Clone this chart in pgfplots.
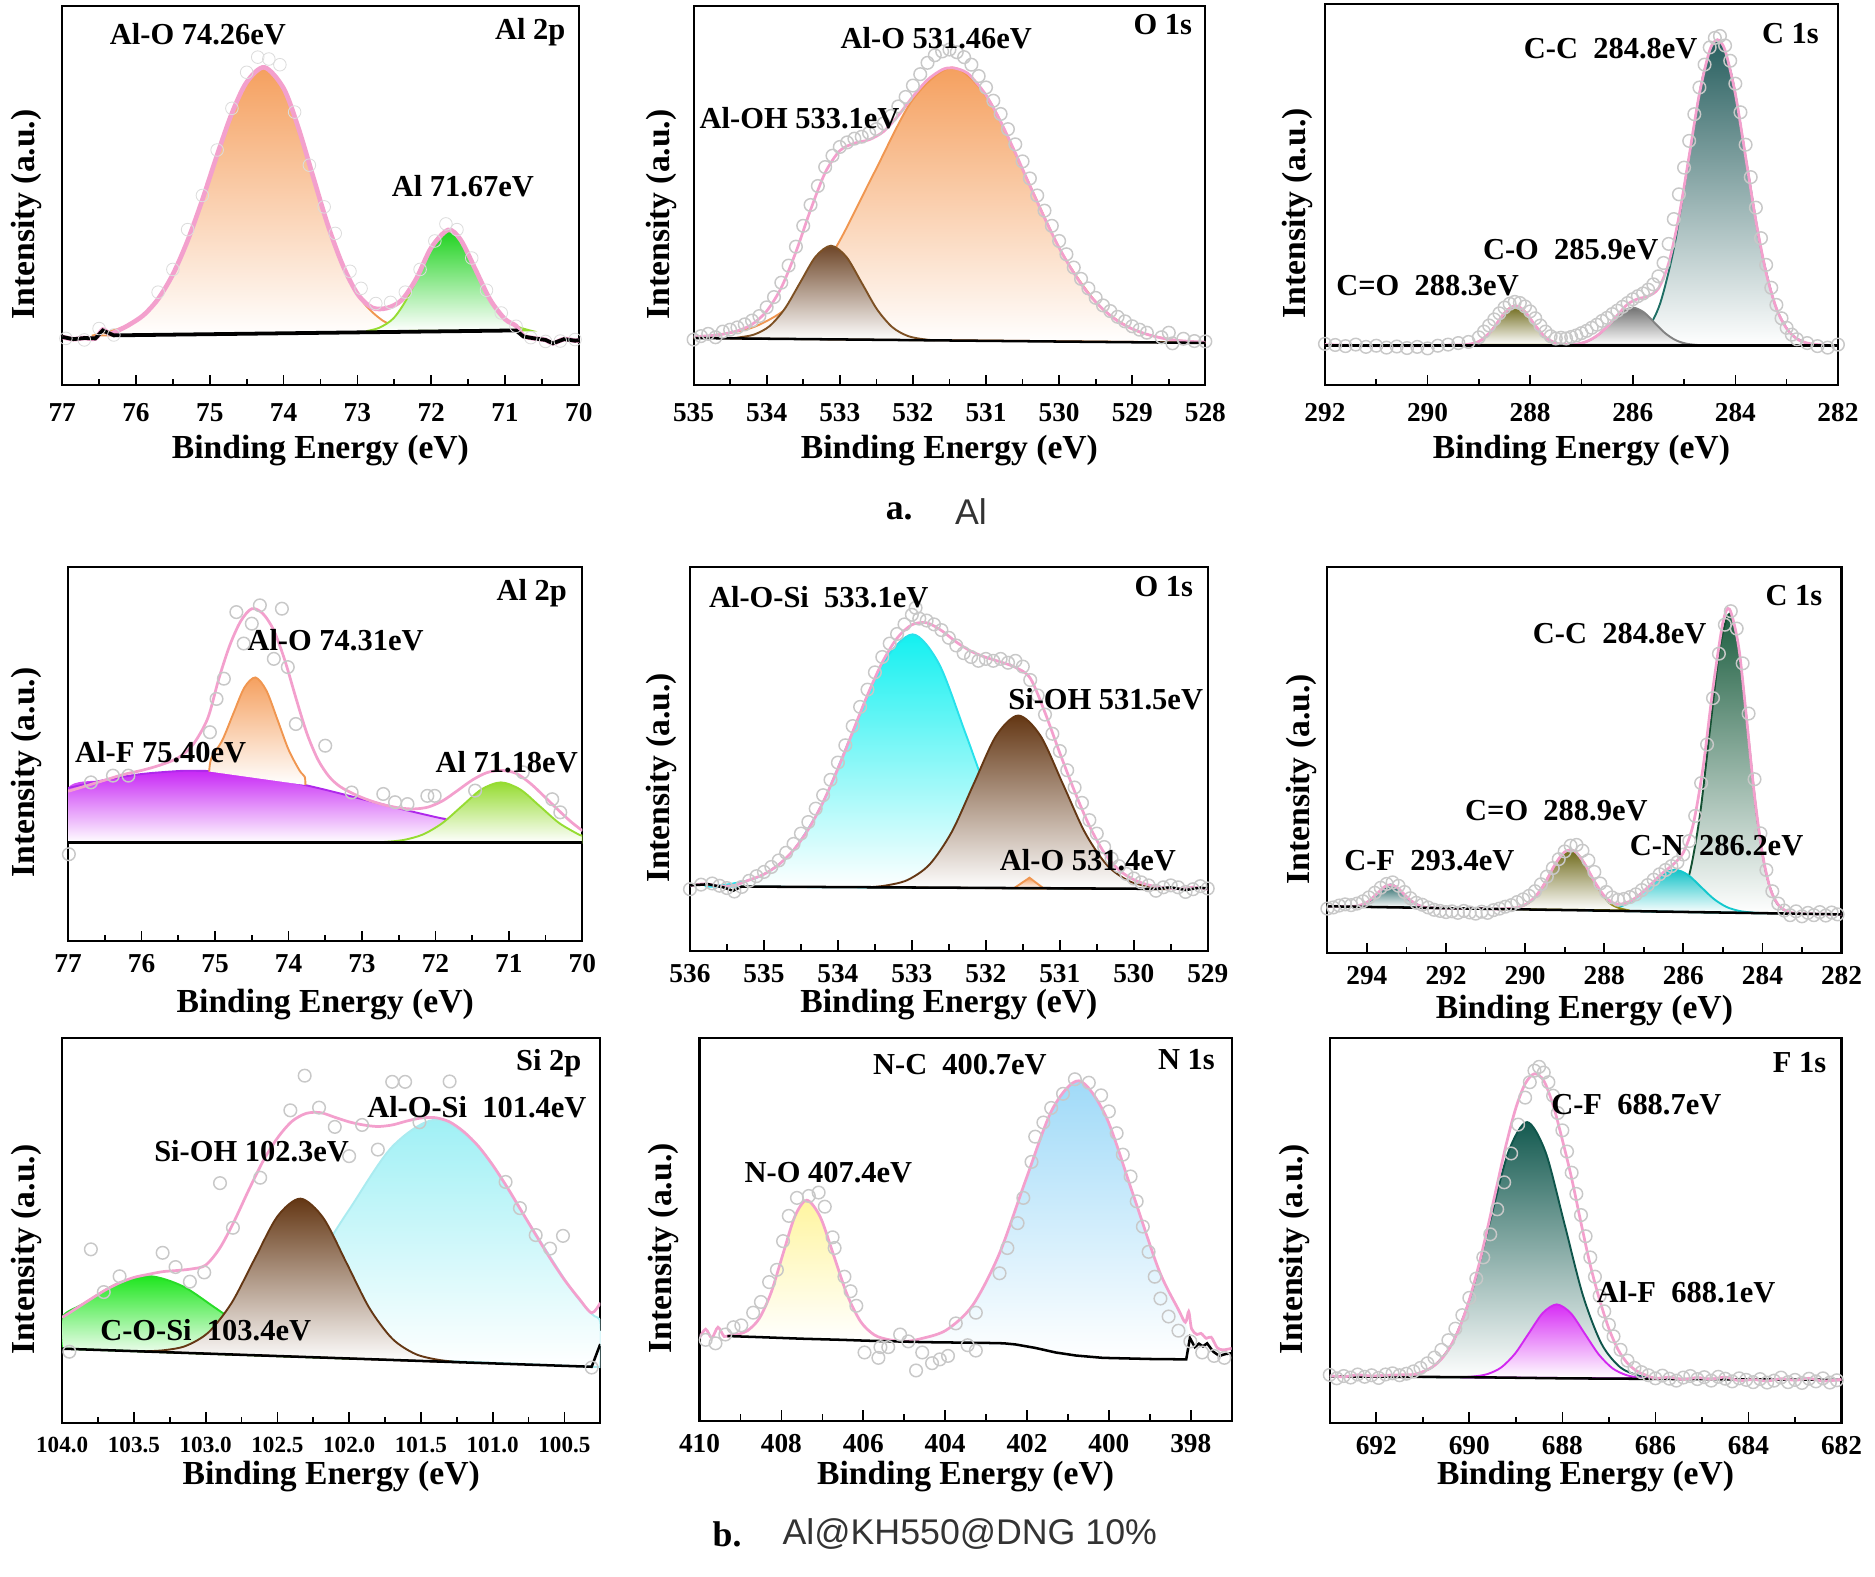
\documentclass[border=0pt]{standalone}
\usepackage{fontspec}
\setmainfont{Liberation Serif}
\newfontfamily\capfont{Liberation Sans}
\usepackage{pgfplots}
\pgfplotsset{compat=1.18}
\definecolor{envpink}{RGB}{243,160,205}
\definecolor{circg}{RGB}{200,200,200}
\definecolor{circl}{RGB}{220,220,220}
\definecolor{orL}{RGB}{240,150,80}
\definecolor{orF}{RGB}{245,160,95}
\definecolor{grL}{RGB}{150,220,50}
\definecolor{grF}{RGB}{30,210,30}
\definecolor{brL}{RGB}{125,80,35}
\definecolor{brF}{RGB}{110,70,40}
\definecolor{tealL}{RGB}{30,110,100}
\definecolor{tealF}{RGB}{40,95,95}
\definecolor{olL}{RGB}{150,140,20}
\definecolor{olF}{RGB}{110,105,25}
\definecolor{gyL}{RGB}{130,130,130}
\definecolor{gyF}{RGB}{115,115,115}
\definecolor{puL}{RGB}{175,40,235}
\definecolor{puF}{RGB}{200,40,245}
\definecolor{cyL}{RGB}{40,225,235}
\definecolor{cyF}{RGB}{20,240,240}
\definecolor{brbL}{RGB}{100,55,20}
\definecolor{brbF}{RGB}{100,55,20}
\definecolor{cfL}{RGB}{30,100,100}
\definecolor{cfF}{RGB}{35,100,100}
\definecolor{cnL}{RGB}{20,200,205}
\definecolor{cnF}{RGB}{20,195,200}
\definecolor{ccL}{RGB}{20,80,50}
\definecolor{ccF}{RGB}{30,95,65}
\definecolor{gcF}{RGB}{30,230,30}
\definecolor{gcL}{RGB}{40,220,40}
\definecolor{lcF}{RGB}{160,240,245}
\definecolor{lcL}{RGB}{170,235,240}
\definecolor{yeF}{RGB}{255,245,160}
\definecolor{blF}{RGB}{160,218,248}
\definecolor{fcL}{RGB}{15,85,75}
\definecolor{fcF}{RGB}{20,90,80}
\definecolor{maL}{RGB}{210,40,240}
\definecolor{maF}{RGB}{215,45,245}
\newcommand\lab{\fontsize{14.5}{17}\selectfont\bfseries}
\pgfplotsset{
 xps/.style={
  scale only axis, clip mode=individual, anchor=south west,
  x dir=reverse, ymin=0, ymax=100, ytick=\empty,
  xtick pos=left, tick align=inside,
  major tick length=5pt, minor tick length=3pt, minor x tick num=1,
  tick style={black, line width=0.8pt},
  axis line style={line width=1pt},
  /pgf/number format/assume math mode=true,
  xticklabel style={font=\fontsize{13}{15}\selectfont\bfseries, yshift=-0.1cm},
  xlabel={Binding Energy (eV)}, ylabel={Intensity (a.u.)},
  every axis x label/.style={at={(axis description cs:0.5,-0.167)}, anchor=center, font=\fontsize{16}{18}\selectfont\bfseries},
  every axis y label/.style={at={(axis description cs:-0.068,0.45)}, rotate=90, anchor=center, font=\fontsize{16}{18}\selectfont\bfseries},
 },
 pk/.style 2 args={smooth, draw=#1, line width=0.9pt, top color=#2, bottom color=white},
 env/.style={smooth, draw=envpink, line width=1.3pt},
 base/.style={black, line width=1.2pt},
 circ/.style={only marks, mark=o, mark size=3pt, mark options={draw=circg, line width=0.7pt}},
}
\begin{document}
\begin{tikzpicture}
\path (0,0) rectangle (31.36,26.36);
% ---------------- a1 Al 2p
\begin{axis}[xps, at={(1.04cm,19.92cm)}, width=8.64cm, height=6.34cm,
  xmin=70, xmax=77, xtick={70,...,77}, ylabel style={at={(axis description cs:-0.069,0.45)}},
  xticklabel style={yshift=-0.08cm}, xlabel style={at={(axis description cs:0.5,-0.172)}}]
\addplot[pk={orL}{orF}] coordinates {(76.6,13.03)(76.42,13.85)(76.06,16.24)(75.70,22.74)(75.34,36.12)(74.98,55.99)(74.62,75.45)(74.26,83.79)(73.94,75.61)(73.62,56.32)(73.30,36.60)(72.98,23.39)(72.66,17.05)(72.34,14.82)(72.10,14.10)} -- cycle;
\addplot[pk={grL}{grF}] coordinates {(72.88,14.22)(72.70,15.13)(72.51,17.61)(72.33,22.72)(72.14,30.28)(71.96,37.70)(71.77,40.88)(71.59,37.78)(71.40,30.46)(71.22,22.98)(71.03,17.97)(70.85,15.57)(70.66,14.40)} -- cycle;
\addplot[smooth, draw=envpink, line width=2.2pt] coordinates {(77.0,12.7)(76.85,12.1)(76.7,12.4)(76.55,12.3)(76.45,14.6)(76.35,13.5)(76.2,14.8)(76.1,15.8)(75.9,18.4)(75.7,22.7)(75.5,29.2)(75.3,38.1)(75.1,48.9)(74.9,60.7)(74.7,71.7)(74.5,79.9)(74.26,83.8)(74.0,78.3)(73.8,67.9)(73.6,55.0)(73.4,42.2)(73.2,31.7)(73.0,24.1)(72.8,20.4)(72.6,20.3)(72.4,22.4)(72.2,28.1)(72.0,36.2)(71.77,40.9)(71.6,38.3)(71.4,30.5)(71.2,22.5)(71.0,17.4)(70.85,15.6)(70.75,13.0)(70.6,12.3)(70.45,11.9)(70.35,11.0)(70.2,12.1)(70.05,11.7)(70.0,11.8)};
\addplot[black, line width=1.8pt] coordinates {(77.0,12.7)(76.85,12.1)(76.7,12.4)(76.55,12.3)(76.45,14.4)(76.3,13.1)(70.85,14.4)(70.75,12.8)(70.6,12.3)(70.45,11.9)(70.35,11.0)(70.2,12.1)(70.05,11.7)(70,11.8)};
\addplot[circ, mark options={draw=circl}] coordinates {(76.95,12.3)(76.7,11.9)(76.5,14.9)(76.3,13.2)(75.7,24.5)(75.5,30.5)(75.3,41)(75.1,50)(74.9,62)(74.7,73)(74.5,82.5)(74.35,86.5)(74.2,86)(74.05,84.5)(73.85,72)(73.65,58)(73.45,47)(73.3,40)(73.1,30)(72.95,25.5)(72.75,21.5)(72.55,21.8)(72.35,24.5)(72.15,30.5)(71.95,38)(71.8,42.5)(71.65,41)(71.45,33.5)(71.25,25)(71.05,19)(70.85,15.5)(70.65,12.5)(70.45,11.5)(70.25,11.6)(70.05,12.0)};
\node[font=\lab] at (axis cs:75.16,92.6) {Al-O 74.26eV};
\node[font=\lab, anchor=east] at (axis cs:70.08,93) {Al 2p};
\node[font=\lab] at (axis cs:71.57,52.4) {Al 71.67eV};
\end{axis}
% ---------------- a2 O 1s
\begin{axis}[xps, at={(11.60cm,19.92cm)}, width=8.56cm, height=6.34cm,
  xmin=528, xmax=535, xtick={528,...,535}, ylabel style={at={(axis description cs:-0.063,0.45)}},
  xticklabel style={yshift=-0.08cm}, xlabel style={at={(axis description cs:0.5,-0.172)}}]
\addplot[pk={orL}{orF}] coordinates {(535.0,12.45)(534.70,13.15)(534.16,15.41)(533.62,21.88)(533.08,35.42)(532.54,55.61)(532.00,75.38)(531.46,83.74)(530.96,75.19)(530.46,55.23)(529.96,34.84)(529.46,21.11)(528.96,14.44)(528.46,11.99)(528.0,11.2)} -- cycle;
\addplot[pk={brL}{brF}] coordinates {(534.5,12.3)(534.38,12.56)(534.17,13.33)(533.96,15.55)(533.75,20.19)(533.54,27.11)(533.33,33.89)(533.12,36.75)(532.91,33.81)(532.70,26.95)(532.49,19.95)(532.28,15.24)(532.07,12.94)(531.86,12.09)(531.7,11.8)} -- cycle;
\addplot[env] coordinates {(535.0,12.7)(534.8,13.0)(534.6,13.4)(534.4,14.3)(534.2,16.0)(534.0,19.5)(533.8,25.7)(533.6,35.1)(533.4,46.2)(533.2,56.0)(533.0,61.8)(532.8,63.8)(532.6,64.7)(532.4,66.9)(532.2,71.1)(532.0,76.1)(531.8,80.5)(531.6,83.2)(531.46,83.7)(531.3,82.8)(531.2,81.3)(531.0,76.5)(530.8,69.5)(530.6,61.3)(530.4,52.6)(530.2,44.1)(530.0,36.2)(529.8,29.6)(529.6,24.1)(529.4,20.0)(529.2,16.9)(529.0,14.8)(528.8,13.4)(528.6,12.4)(528.4,11.8)(528.2,11.5)(528.0,11.3)};
\addplot[base] coordinates {(535,12.4)(528,11.1)};
\addplot[circ] coordinates {(535.0,12.0)(534.9,12.9)(534.8,13.5)(534.7,12.6)(534.6,14.1)(534.5,14.6)(534.4,15.2)(534.3,16.0)(534.2,17.0)(534.1,18.2)(534.0,20.5)(533.9,23.2)(533.8,27.0)(533.7,31.5)(533.6,36.5)(533.5,42.0)(533.4,47.5)(533.3,52.5)(533.2,57.5)(533.1,60.5)(533.0,62.8)(532.9,64.0)(532.8,65.0)(532.7,65.5)(532.6,66.5)(532.5,67.5)(532.4,69.0)(532.3,71.0)(532.2,73.5)(532.1,76.0)(532.0,79.0)(531.9,82.0)(531.8,85.0)(531.7,87.0)(531.6,88.0)(531.5,88.5)(531.4,87.8)(531.3,86.5)(531.2,84.5)(531.1,81.5)(531.0,78.5)(530.9,75.0)(530.8,71.5)(530.7,67.5)(530.6,63.5)(530.5,59.0)(530.4,54.5)(530.3,50.0)(530.2,46.0)(530.1,42.0)(530.0,38.0)(529.9,34.5)(529.8,31.0)(529.7,28.0)(529.6,25.5)(529.5,23.0)(529.4,21.0)(529.3,19.5)(529.2,18.0)(529.1,16.8)(529.0,15.5)(528.9,14.6)(528.8,13.8)(528.6,12.6)(528.5,13.8)(528.45,11.0)(528.3,12.2)(528.15,11.6)(528.0,11.5)};
\node[font=\lab] at (axis cs:531.68,91.6) {Al-O 531.46eV};
\node[font=\lab] at (axis cs:533.55,70.3) {Al-OH 533.1eV};
\node[font=\lab, anchor=east] at (axis cs:528.08,95) {O 1s};
\end{axis}
% ---------------- a3 C 1s
\begin{axis}[xps, at={(22.16cm,19.92cm)}, width=8.58cm, height=6.38cm,
  xmin=282, xmax=292, xtick={282,284,...,292}, ylabel style={at={(axis description cs:-0.054,0.45)}},
  xticklabel style={yshift=-0.08cm}, xlabel style={at={(axis description cs:0.5,-0.172)}}]
\addplot[pk={tealL}{tealF}] coordinates {(286.3,10.4)(286.03,11.29)(285.75,13.92)(285.47,21.24)(285.19,36.41)(284.91,58.98)(284.63,81.09)(284.35,90.5)(284.07,81.09)(283.79,58.98)(283.51,36.41)(283.23,21.24)(282.95,13.92)(282.67,11.29)(282.4,10.4)} -- cycle;
\addplot[pk={gyL}{gyF}] coordinates {(287.26,10.51)(287.05,10.83)(286.84,11.74)(286.63,13.61)(286.42,16.40)(286.21,19.14)(286.0,20.3)(285.79,19.14)(285.58,16.40)(285.37,13.61)(285.16,11.74)(284.95,10.83)(284.74,10.51)} -- cycle;
\addplot[pk={olL}{olF}] coordinates {(289.28,10.52)(289.115,10.86)(288.95,11.81)(288.785,13.78)(288.62,16.71)(288.455,19.58)(288.29,20.8)(288.125,19.58)(287.96,16.71)(287.795,13.78)(287.63,11.81)(287.465,10.86)(287.30,10.52)} -- cycle;
\addplot[env] coordinates {(292,10.6)(291.5,10.4)(291,10.3)(290.5,10.3)(290,10.3)(289.75,10.4)(289.5,10.5)(289.25,10.6)(289.0,11.4)(288.75,14.3)(288.5,18.9)(288.29,20.8)(288.1,19.2)(287.9,15.6)(287.7,12.5)(287.5,11.0)(287.3,10.6)(287.1,10.7)(286.9,11.4)(286.7,12.9)(286.5,15.3)(286.3,18.3)(286.1,21.2)(285.9,22.6)(285.7,23.3)(285.5,25.3)(285.3,31.9)(285.1,44.1)(284.9,60.1)(284.7,76.4)(284.5,87.7)(284.35,90.5)(284.2,87.7)(284.0,76.3)(283.8,59.8)(283.6,43.1)(283.4,29.4)(283.2,20.1)(283.0,14.8)(282.8,12.1)(282.6,11.0)(282.4,10.6)(282.2,10.4)(282.0,10.4)};
\addplot[base] coordinates {(292,10.4)(282,10.4)};
\addplot[circ] coordinates {(292.0,10.8)(291.8,10.5)(291.6,10.2)(291.4,10.6)(291.2,10.0)(291.0,10.3)(290.8,9.8)(290.6,10.1)(290.4,9.7)(290.2,10.0)(290.0,9.6)(289.8,10.3)(289.6,10.6)(289.4,11.0)(289.2,11.3)(289.0,12.5)(288.9,14.0)(288.8,15.6)(288.7,17.2)(288.6,18.8)(288.5,20.3)(288.4,21.3)(288.3,21.8)(288.2,21.5)(288.1,20.6)(288.0,19.3)(287.9,17.5)(287.8,15.6)(287.7,14.0)(287.6,12.8)(287.5,12.2)(287.4,12.4)(287.3,12.2)(287.2,12.6)(287.1,13.0)(287.0,13.6)(286.9,14.2)(286.8,15.0)(286.7,15.8)(286.6,16.8)(286.5,17.6)(286.4,18.6)(286.3,19.5)(286.2,20.5)(286.1,21.5)(286.0,22.5)(285.9,23.3)(285.8,24.0)(285.7,25.0)(285.6,26.4)(285.5,28.5)(285.4,32.0)(285.3,37.0)(285.2,43.5)(285.1,50.0)(285.0,57.0)(284.9,64.0)(284.8,71.0)(284.7,78.0)(284.6,84.0)(284.5,88.5)(284.4,91.0)(284.3,91.5)(284.2,89.0)(284.1,85.0)(284.0,79.0)(283.9,71.5)(283.8,63.0)(283.7,54.5)(283.6,46.5)(283.5,38.5)(283.4,31.5)(283.3,25.5)(283.2,21.0)(283.1,17.5)(283.0,15.0)(282.9,13.2)(282.8,12.0)(282.6,11.0)(282.4,10.2)(282.2,9.8)(282.0,10.6)};
\node[font=\lab] at (axis cs:286.43,88.3) {C-C\ \ 284.8eV};
\node[font=\lab, anchor=east] at (axis cs:282.23,92.2) {C 1s};
\node[font=\lab] at (axis cs:287.21,35.5) {C-O\ \ 285.9eV};
\node[font=\lab] at (axis cs:290.0,26.0) {C=O\ \ 288.3eV};
\end{axis}
% ---------------- b1 Al 2p
\begin{axis}[xps, at={(1.14cm,10.62cm)}, width=8.60cm, height=6.26cm,
  xmin=70, xmax=77, xtick={70,...,77}, ylabel style={at={(axis description cs:-0.081,0.45)}}, xlabel style={at={(axis description cs:0.5,-0.17)}}]
\addplot[smooth, draw=none, top color=puF, bottom color=white] coordinates {(77,26.3)(77,40.91)(76.5,43.06)(76.0,44.64)(75.5,45.43)(75.3,45.5)(75.0,45.34)(74.5,44.37)(74.0,42.66)(73.5,40.43)(73.0,37.94)(72.5,35.46)(72.0,33.15)(71.85,32.53)(71.85,26.3)} -- cycle;
\addplot[smooth, draw=puL, line width=0.9pt] coordinates {(77,40.91)(76.5,43.06)(76.0,44.64)(75.5,45.43)(75.3,45.5)(75.0,45.34)(74.5,44.37)(74.0,42.66)(73.5,40.43)(73.0,37.94)(72.5,35.46)(72.0,33.15)(71.85,32.53)};
\addplot[smooth, draw=none, top color=orF, bottom color=white] coordinates {(75.08,45.3)(75.05,48.88)(74.9,53.72)(74.75,60.85)(74.6,67.76)(74.45,70.43)(74.3,66.89)(74.15,59.13)(74.0,51.17)(73.85,45.58)(73.78,43.91)(73.77,41.7)} -- cycle;
\addplot[smooth, draw=orL, line width=0.9pt] coordinates {(75.08,45.3)(75.05,48.88)(74.9,53.72)(74.75,60.85)(74.6,67.76)(74.45,70.43)(74.3,66.89)(74.15,59.13)(74.0,51.17)(73.85,45.58)(73.78,43.91)(73.77,41.7)};
\addplot[pk={grL}{grL}] coordinates {(72.96,26.3)(72.70,26.48)(72.435,27.01)(72.17,28.48)(71.905,31.53)(71.64,36.06)(71.375,40.51)(71.11,42.4)(70.845,40.51)(70.58,36.06)(70.315,31.53)(70.05,28.48)(70.0,28.11)(70.0,26.3)} -- cycle;
\addplot[env] coordinates {(77.0,40.0)(76.75,41.5)(76.5,43.0)(76.25,44.5)(76.0,45.6)(75.75,47.0)(75.5,49.0)(75.3,52.5)(75.1,59.5)(74.95,70)(74.8,79)(74.65,85.5)(74.5,88.8)(74.35,87.5)(74.2,83)(74.05,75)(73.9,65)(73.75,55.5)(73.6,48.5)(73.45,44)(73.3,41.3)(73.1,39.2)(72.9,37.6)(72.7,36.4)(72.5,35.6)(72.3,35.3)(72.1,35.8)(71.9,37.5)(71.7,40.2)(71.5,43.0)(71.3,45.0)(71.1,45.6)(70.9,44.8)(70.7,42.0)(70.5,38.3)(70.3,34.5)(70.15,31.8)(70.0,29.5)};
\addplot[base] coordinates {(77,26.3)(70,26.3)};
\addplot[circ] coordinates {(74.71,87.9)(74.39,89.7)(74.09,88.8)(74.50,84.8)(74.61,79.5)(74.20,75.4)(74.01,73.2)(74.88,70.1)(74.98,64.7)(73.90,58.0)(75.07,55.8)(73.50,52.2)(76.69,42.4)(76.39,44.2)(76.18,44.2)(73.14,39.7)(72.71,39.3)(72.55,37.1)(72.38,36.6)(72.11,38.8)(72.01,38.8)(71.46,40.2)(70.81,45.1)(70.41,37.9)(70.30,34.4)(76.99,23.2)};
\node[font=\lab, anchor=east] at (axis cs:70.11,92.9) {Al 2p};
\node[font=\lab] at (axis cs:73.36,80.4) {Al-O 74.31eV};
\node[font=\lab] at (axis cs:75.74,50.4) {Al-F 75.40eV};
\node[font=\lab] at (axis cs:71.03,47.8) {Al 71.18eV};
\end{axis}
% ---------------- b2 O 1s
\begin{axis}[xps, at={(11.54cm,10.46cm)}, width=8.66cm, height=6.42cm,
  xmin=529, xmax=536, xtick={529,...,536}, ylabel style={at={(axis description cs:-0.055,0.45)}}, xlabel style={at={(axis description cs:0.5,-0.14)}}]
\addplot[pk={cyL}{cyF}] coordinates {(535.8,16.7)(535.45,17.38)(535.04,19.50)(534.63,25.49)(534.22,37.95)(533.81,56.51)(533.40,74.69)(532.99,82.40)(532.63,74.61)(532.27,56.36)(531.91,37.72)(531.55,25.19)(531.19,19.12)(530.83,16.91)(530.6,16.2)} -- cycle;
\addplot[pk={brbL}{brbF}] coordinates {(533.6,16.5)(533.36,16.94)(533.06,18.39)(532.76,22.47)(532.46,30.96)(532.16,43.61)(531.86,56.00)(531.56,61.26)(531.26,55.94)(530.96,43.49)(530.66,30.78)(530.36,22.23)(530.06,18.09)(529.76,16.58)(529.5,16.0)} -- cycle;
\addplot[draw=orL, line width=0.9pt, top color=orF, bottom color=white] coordinates {(531.62,16.26)(531.41,19.0)(531.22,16.23)} -- cycle;
\addplot[env] coordinates {(536.0,16.9)(535.8,17.4)(535.6,16.8)(535.4,17.0)(535.2,18.4)(535.0,19.9)(534.8,22.4)(534.6,26.2)(534.4,31.6)(534.2,38.7)(534.0,47.4)(533.8,57.0)(533.6,66.6)(533.4,75.1)(533.2,81.4)(533.0,84.9)(532.8,85.4)(532.6,83.4)(532.4,80.4)(532.2,78.0)(532.0,76.4)(531.8,75.2)(531.6,73.8)(531.4,71.0)(531.2,62.0)(531.0,51.5)(530.8,41.5)(530.6,32.5)(530.4,25.5)(530.2,21.0)(530.0,18.5)(529.8,17.1)(529.6,16.4)(529.4,16.1)(529.2,16.5)(529.0,16.0)};
\addplot[base] coordinates {(536,17.0)(535.75,17.3)(535.55,16.5)(535.42,15.6)(535.3,16.7)(529.7,16.1)(529.5,16.5)(529.3,15.8)(529.1,16.4)(529,16.2)};
\addplot[circ] coordinates {(536.0,16.0)(535.85,17.2)(535.7,17.5)(535.6,16.9)(535.5,16.3)(535.4,15.4)(535.3,16.6)(535.2,18.2)(535.1,19.4)(535.0,20.5)(534.9,21.8)(534.8,23.5)(534.7,25.5)(534.6,27.8)(534.5,30.5)(534.4,33.5)(534.3,37.0)(534.2,40.5)(534.1,44.5)(534.0,49.0)(533.9,53.5)(533.8,58.5)(533.7,63.5)(533.6,68.0)(533.5,72.5)(533.4,76.5)(533.3,80.0)(533.2,82.5)(533.1,85.0)(533.0,87.5)(532.95,89.3)(532.9,86.5)(532.8,86.0)(532.7,85.0)(532.6,83.5)(532.5,81.5)(532.4,79.5)(532.3,77.5)(532.2,76.5)(532.1,75.5)(532.0,76.0)(531.9,75.5)(531.8,76.0)(531.7,75.0)(531.6,75.5)(531.5,74.0)(531.4,70.5)(531.3,66.5)(531.2,61.5)(531.1,56.5)(531.0,52.0)(530.9,47.0)(530.8,42.5)(530.7,38.5)(530.6,34.0)(530.5,30.5)(530.4,27.0)(530.3,24.0)(530.2,22.0)(530.1,20.0)(530.0,18.8)(529.9,17.8)(529.8,17.0)(529.7,15.6)(529.6,16.5)(529.5,17.0)(529.4,16.5)(529.3,15.3)(529.2,16.0)(529.1,16.8)(529.0,16.2)};
\node[font=\lab] at (axis cs:534.26,92.2) {Al-O-Si\ \ 533.1eV};
\node[font=\lab, anchor=east] at (axis cs:529.1,94.8) {O 1s};
\node[font=\lab] at (axis cs:530.38,65.6) {Si-OH 531.5eV};
\node[font=\lab] at (axis cs:530.62,23.7) {Al-O 531.4eV};
\end{axis}
% ---------------- b3 C 1s
\begin{axis}[xps, at={(22.20cm,10.42cm)}, width=8.60cm, height=6.46cm,
  xmin=282, xmax=295, xtick={282,284,...,294}, ylabel style={at={(axis description cs:-0.051,0.45)}}, xlabel style={at={(axis description cs:0.5,-0.15)}}]
\addplot[pk={ccL}{ccF}] coordinates {(286.6,10.7)(286.33,11.56)(286.08,14.06)(285.83,21.09)(285.58,35.71)(285.33,57.48)(285.08,78.80)(284.83,87.86)(284.60,78.73)(284.37,57.32)(284.14,35.47)(283.91,20.78)(283.68,13.67)(283.45,11.09)(283.2,10.2)} -- cycle;
\addplot[pk={cnL}{cnF}] coordinates {(288.4,11.03)(288.16,11.11)(287.835,11.42)(287.51,12.36)(287.185,14.38)(286.86,17.40)(286.535,20.35)(286.21,21.58)(285.885,20.25)(285.56,17.18)(285.235,14.06)(284.91,11.94)(284.585,10.90)(284.26,10.48)(283.9,10.3)} -- cycle;
\addplot[pk={olL}{olF}] coordinates {(290.6,11.38)(290.36,11.52)(290.11,12.0)(289.86,13.39)(289.61,16.33)(289.36,20.71)(289.11,24.86)(288.86,26.81)(288.61,24.93)(288.36,20.55)(288.11,16.09)(287.86,12.90)(287.61,11.60)(287.36,11.04)} -- cycle;
\addplot[pk={cfL}{cfF}] coordinates {(294.55,12.0)(294.39,12.0)(294.225,12.2)(294.06,12.75)(293.895,13.71)(293.73,15.37)(293.565,17.02)(293.4,17.74)(293.235,16.99)(293.07,15.31)(292.905,13.64)(292.74,12.62)(292.575,11.95)(292.41,11.75)} -- cycle;
\addplot[env] coordinates {(295.0,12.1)(294.75,12.1)(294.5,12.0)(294.25,12.2)(294.0,13.1)(293.75,15.3)(293.5,17.5)(293.25,17.1)(293.0,14.6)(292.75,12.6)(292.5,11.8)(292.25,11.7)(292.0,11.6)(291.5,11.5)(291.0,11.5)(290.75,11.4)(290.5,11.5)(290.25,11.7)(290.0,12.5)(289.75,14.5)(289.5,18.1)(289.25,22.8)(289.0,26.2)(288.75,26.4)(288.5,23.2)(288.25,18.6)(288.0,14.8)(287.75,12.9)(287.5,12.8)(287.25,14.0)(287.0,16.0)(286.75,18.5)(286.5,20.9)(286.25,23.0)(286.0,26.0)(285.75,33.3)(285.5,48.1)(285.25,68.6)(285.0,85.5)(284.83,89.0)(284.6,79.2)(284.4,60.6)(284.2,40.7)(284.0,25.7)(283.8,16.6)(283.6,12.5)(283.4,10.9)(283.2,10.3)(283.0,10.2)(282.5,10.1)(282.0,10.0)};
\addplot[base] coordinates {(295,12.1)(282,10.0)};
\addplot[circ] coordinates {(295.0,11.5)(294.85,11.8)(294.7,12.3)(294.55,12.6)(294.4,12.4)(294.25,12.8)(294.1,13.4)(293.95,14.4)(293.8,15.6)(293.65,16.9)(293.5,17.9)(293.35,18.3)(293.2,17.4)(293.05,15.8)(292.9,14.2)(292.75,13.0)(292.6,12.5)(292.45,11.8)(292.3,11.2)(292.15,10.9)(292.0,10.6)(291.85,10.8)(291.7,10.4)(291.55,10.9)(291.4,10.5)(291.25,10.2)(291.1,10.7)(290.95,10.4)(290.8,11.1)(290.65,11.5)(290.5,12.0)(290.35,12.4)(290.2,13.2)(290.05,13.9)(289.9,14.8)(289.75,16.0)(289.6,17.8)(289.45,19.8)(289.3,22.0)(289.15,24.3)(289.0,26.3)(288.85,27.8)(288.7,28.0)(288.55,26.5)(288.4,24.0)(288.25,21.0)(288.1,18.0)(287.95,15.8)(287.8,14.4)(287.65,13.8)(287.5,14.0)(287.35,14.5)(287.2,15.2)(287.05,16.3)(286.9,17.6)(286.75,19.0)(286.6,20.4)(286.45,21.5)(286.3,22.5)(286.15,23.5)(286.0,25.5)(285.85,29.0)(285.7,35.5)(285.55,44.0)(285.4,54.0)(285.25,66.0)(285.1,77.5)(284.95,85.0)(284.8,88.5)(284.65,84.0)(284.5,75.0)(284.35,62.0)(284.2,45.0)(284.05,31.0)(283.9,21.5)(283.75,16.0)(283.6,12.8)(283.45,11.0)(283.3,9.8)(283.15,10.8)(283.0,9.5)(282.85,10.4)(282.7,9.8)(282.55,10.6)(282.4,9.7)(282.25,10.5)(282.1,10.0)};
\node[font=\lab, anchor=east] at (axis cs:282.3,92.6) {C 1s};
\node[font=\lab] at (axis cs:287.61,82.7) {C-C\ \ 284.8eV};
\node[font=\lab] at (axis cs:289.21,36.8) {C=O\ \ 288.9eV};
\node[font=\lab] at (axis cs:285.16,27.7) {C-N\ \ 286.2eV};
\node[font=\lab] at (axis cs:292.42,23.8) {C-F\ \ 293.4eV};
\end{axis}
% ---------------- c1 Si 2p
\begin{axis}[xps, at={(1.04cm,2.56cm)}, width=9.00cm, height=6.44cm,
  xmin=100.25, xmax=104, xtick={100.5,101,101.5,102,102.5,103,103.5,104},
  xticklabels={100.5,101.0,101.5,102.0,102.5,103.0,103.5,104.0},
  xticklabel style={font=\fontsize{11}{13}\selectfont\bfseries, yshift=-0.02cm},
  ylabel style={at={(axis description cs:-0.067,0.45)}}, xlabel style={at={(axis description cs:0.5,-0.14)}}]
\addplot[pk={lcL}{lcF}] coordinates {(103.25,19.0)(102.94,20.7)(102.63,26.05)(102.32,37.54)(102.01,54.85)(101.70,71.78)(101.39,78.76)(101.08,70.98)(100.77,53.25)(100.46,35.16)(100.31,28.34)(100.25,26.1)(100.25,14.52)} -- cycle;
\addplot[pk={gcL}{gcF}] coordinates {(104.0,19.3)(104.0,27.43)(103.85,31.0)(103.62,36.11)(103.39,38.12)(103.16,35.52)(102.93,29.82)(102.70,24.0)(102.47,19.99)(102.24,17.91)(102.01,16.97)(101.9,16.6)} -- cycle;
\addplot[pk={brbL}{brbF}] coordinates {(103.46,18.6)(103.30,18.86)(103.14,20.0)(102.98,23.55)(102.82,31.14)(102.66,42.51)(102.50,53.65)(102.34,58.27)(102.18,53.24)(102.02,41.69)(101.86,29.91)(101.70,21.91)(101.54,17.95)(101.38,16.41)(101.22,15.75)} -- cycle;
\addplot[env] coordinates {(104.0,27.4)(103.9,29.8)(103.8,32.2)(103.7,34.5)(103.6,36.4)(103.5,37.8)(103.4,38.6)(103.3,39.3)(103.2,39.6)(103.1,40.0)(103.0,41.0)(102.9,45.5)(102.8,52.5)(102.7,60.5)(102.6,68.0)(102.5,74.0)(102.4,78.3)(102.3,80.4)(102.2,80.6)(102.1,79.4)(102.0,78.2)(101.9,77.4)(101.8,77.0)(101.7,77.4)(101.6,78.4)(101.5,79.2)(101.4,79.3)(101.3,78.2)(101.2,75.6)(101.1,71.9)(101.0,67.0)(100.9,61.3)(100.8,55.1)(100.7,48.9)(100.6,42.8)(100.5,37.2)(100.4,32.4)(100.31,28.6)(100.25,31.2)};
\addplot[base] coordinates {(104,19.3)(100.31,14.6)(100.25,20.5)};
\addplot[circ] coordinates {(103.80,45.1)(103.71,34.0)(103.60,38.1)(103.30,44.2)(103.21,40.5)(103.11,36.7)(103.01,39.1)(102.90,62.3)(102.81,50.7)(102.62,63.7)(102.41,81.2)(102.31,90.2)(102.21,81.9)(102.10,76.9)(102.00,69.3)(101.91,77.4)(101.80,71.0)(101.70,88.6)(101.61,88.6)(101.51,78.1)(101.30,88.7)(100.91,62.6)(100.81,55.8)(100.70,48.8)(100.60,45.3)(100.51,48.6)(100.31,14.4)(103.95,18.5)};
\node[font=\lab, anchor=east] at (axis cs:100.33,93.5) {Si 2p};
\node[font=\lab] at (axis cs:101.11,81.9) {Al-O-Si\ \ 101.4eV};
\node[font=\lab] at (axis cs:102.68,70.7) {Si-OH 102.3eV};
\node[font=\lab] at (axis cs:103.0,24.2) {C-O-Si\ \ 103.4eV};
\end{axis}
% ---------------- c2 N 1s
\begin{axis}[xps, at={(11.70cm,2.60cm)}, width=8.90cm, height=6.40cm,
  xmin=397, xmax=410, xtick={398,400,...,410},
  ylabel style={at={(axis description cs:-0.067,0.45)}}, xlabel style={at={(axis description cs:0.5,-0.145)}}]
\addplot[smooth, draw=none, top color=yeF, bottom color=white] coordinates {(409.3,22.05)(409.12,22.40)(408.83,23.49)(408.54,26.70)(408.25,33.45)(407.96,43.56)(407.67,53.42)(407.38,57.57)(407.05,53.22)(406.72,43.13)(406.39,32.82)(406.06,25.83)(405.73,22.42)(405.40,21.15)(405.2,20.7)} -- cycle;
\addplot[smooth, draw=none, top color=blF, bottom color=white] coordinates {(404.9,20.55)(404.63,21.30)(403.98,23.57)(403.33,30.05)(402.68,43.53)(402.03,62.86)(401.38,81.36)(400.73,88.75)(400.08,79.74)(399.43,59.80)(398.78,39.41)(398.13,25.71)(398.05,20.0)(398.0,16.0)} -- cycle;
\addplot[env] coordinates {(410.0,21.6)(409.85,23.9)(409.7,21.6)(409.55,24.4)(409.4,22.0)(409.25,22.3)(409.12,22.4)(408.83,23.5)(408.54,26.7)(408.25,33.5)(407.96,43.6)(407.67,53.4)(407.38,57.6)(407.05,53.2)(406.72,43.1)(406.39,32.8)(406.06,25.8)(405.73,22.4)(405.4,21.2)(405.0,20.7)(404.63,21.3)(403.98,23.6)(403.33,30.1)(402.68,43.5)(402.03,62.9)(401.38,81.4)(400.73,88.8)(400.08,79.7)(399.43,59.8)(398.78,39.4)(398.3,29.0)(398.13,25.7)(398.05,28.5)(397.98,24.0)(397.85,22.5)(397.75,22.8)(397.62,21.5)(397.5,21.8)(397.35,19.0)(397.2,18.5)(397.0,18.9)};
\addplot[base] coordinates {(409.32,22.1)(408.5,21.8)(407.5,21.4)(406.5,21.1)(405.97,20.9)(404.5,20.5)(403.0,20.3)(402.57,20.2)(402.28,19.9)(401.8,19.0)(401.3,17.8)(400.8,17.0)(400.15,16.4)(399.0,16.1)(398.11,16.0)(398.02,21.6)(397.9,19.2)(397.8,20.1)(397.7,19.4)(397.6,20.2)(397.45,18.0)(397.3,16.9)(397.15,17.4)(397.0,17.6)};
\addplot[circ] coordinates {(409.85,21.1)(409.61,20.2)(409.37,22.5)(409.17,24.4)(408.98,24.9)(408.69,28.2)(408.50,31.0)(408.30,36.2)(408.11,39.4)(407.96,46.9)(407.82,53.5)(407.62,58.2)(407.33,58.7)(407.09,59.6)(406.94,55.9)(406.75,47.9)(406.70,45.1)(406.46,37.6)(406.31,33.8)(406.17,30.0)(405.97,17.8)(405.63,16.4)(405.58,19.2)(405.39,19.2)(405.10,22.5)(404.90,20.7)(404.71,13.1)(404.56,17.8)(404.32,15.0)(404.13,16.0)(403.93,16.9)(403.74,25.4)(403.45,19.7)(403.25,18.3)(403.25,28.2)(402.67,38.5)(402.48,45.1)(402.23,51.6)(402.09,58.2)(401.89,67.6)(401.80,74.2)(401.60,77.9)(401.41,81.7)(401.12,85.4)(400.83,89.2)(400.49,88.3)(400.19,85.0)(400.00,80.8)(399.81,75.1)(399.66,69.5)(399.47,63.8)(399.32,57.3)(399.17,50.7)(399.03,44.1)(398.88,37.6)(398.74,31.9)(398.54,27.2)(398.30,23.5)(398.01,20.7)(397.72,17.8)(397.43,16.9)(397.18,16.4)};
\node[font=\lab, anchor=east] at (axis cs:397.23,94.4) {N 1s};
\node[font=\lab] at (axis cs:403.64,93.0) {N-C\ \ 400.7eV};
\node[font=\lab] at (axis cs:406.85,64.8) {N-O 407.4eV};
\end{axis}
% ---------------- c3 F 1s
\begin{axis}[xps, at={(22.24cm,2.56cm)}, width=8.56cm, height=6.44cm,
  xmin=682, xmax=693, xtick={682,684,...,692},
  ylabel style={at={(axis description cs:-0.068,0.45)}}, xlabel style={at={(axis description cs:0.5,-0.14)}}]
\addplot[pk={fcL}{fcF}] coordinates {(691.5,11.97)(691.16,12.69)(690.76,14.83)(690.36,20.87)(689.96,33.41)(689.56,52.09)(689.16,70.39)(688.76,78.15)(688.36,70.32)(687.96,51.96)(687.56,33.22)(687.16,20.60)(686.76,14.50)(686.36,12.30)(686.0,11.53)} -- cycle;
\addplot[pk={maL}{maF}] coordinates {(690.2,11.87)(689.92,12.06)(689.62,12.67)(689.32,14.38)(689.02,17.97)(688.72,23.33)(688.42,28.58)(688.12,30.80)(687.82,28.53)(687.52,23.23)(687.22,17.83)(686.92,14.18)(686.62,12.42)(686.32,11.76)(686.0,11.53)} -- cycle;
\addplot[base] coordinates {(693,12.1)(690,11.9)(688,11.6)(686,11.45)(682,11.2)};
\addplot[env] coordinates {(693.0,12.3)(692.7,12.0)(692.4,12.5)(692.1,12.2)(691.8,12.4)(691.5,12.5)(691.2,12.6)(691.0,13.3)(690.8,14.5)(690.6,16.6)(690.4,20.0)(690.2,25.1)(690.0,32.0)(689.8,40.8)(689.6,51.0)(689.4,62.0)(689.2,72.7)(689.0,81.8)(688.8,88.1)(688.6,90.7)(688.4,88.9)(688.2,82.6)(688.0,73.5)(687.8,63.5)(687.6,52.0)(687.4,41.0)(687.2,32.0)(687.0,24.5)(686.8,19.0)(686.6,15.5)(686.4,13.5)(686.2,12.4)(686.0,11.6)(685.7,11.9)(685.4,11.3)(685.1,11.8)(684.8,11.4)(684.5,11.9)(684.2,11.0)(683.9,11.3)(683.6,10.9)(683.3,11.5)(683.0,11.1)(682.7,11.6)(682.4,10.9)(682.0,11.3)};
\addplot[circ] coordinates {(693.0,12.5)(692.85,11.6)(692.7,12.2)(692.55,11.8)(692.4,12.6)(692.25,12.0)(692.1,12.4)(691.95,11.7)(691.8,12.6)(691.65,12.9)(691.5,12.4)(691.35,12.8)(691.2,13.4)(691.05,14.3)(690.9,15.5)(690.75,17.0)(690.6,19.0)(690.45,21.5)(690.3,24.5)(690.15,28.0)(690.0,32.5)(689.85,37.5)(689.7,43.0)(689.55,49.0)(689.4,55.5)(689.25,62.5)(689.1,70.0)(688.95,77.5)(688.8,84.5)(688.7,88.5)(688.6,91.5)(688.5,92.5)(688.4,91.0)(688.3,88.5)(688.2,85.0)(688.1,80.5)(688.0,76.0)(687.9,70.5)(687.8,65.0)(687.7,59.5)(687.6,54.0)(687.5,48.5)(687.4,43.0)(687.3,38.0)(687.2,33.0)(687.1,29.0)(687.0,25.5)(686.9,22.5)(686.75,19.0)(686.6,16.2)(686.45,14.3)(686.3,13.2)(686.15,12.4)(686.0,11.6)(685.85,12.3)(685.7,11.5)(685.55,11.0)(685.4,11.8)(685.25,12.2)(685.1,11.4)(684.95,11.9)(684.8,11.0)(684.65,12.0)(684.5,11.5)(684.35,10.8)(684.2,11.6)(684.05,11.2)(683.9,10.6)(683.75,11.4)(683.6,10.5)(683.45,11.0)(683.3,11.8)(683.15,10.6)(683.0,11.2)(682.85,10.4)(682.7,11.5)(682.55,10.8)(682.4,11.6)(682.25,10.5)(682.1,11.1)};
\node[font=\lab, anchor=east] at (axis cs:682.17,93.5) {F 1s};
\node[font=\lab] at (axis cs:686.41,82.8) {C-F\ \ 688.7eV};
\node[font=\lab] at (axis cs:685.34,34.0) {Al-F\ \ 688.1eV};
\end{axis}
% ---------------- captions
\node[font=\fontsize{17}{20}\selectfont\bfseries] at (15.04,17.80) {a.};
\node[font=\capfont\fontsize{17}{20}\selectfont, text=black!80] at (16.24,17.80) {Al};
\node[font=\fontsize{17}{20}\selectfont\bfseries] at (12.16,0.70) {b.};
\node[font=\capfont\fontsize{17}{20}\selectfont, text=black!80] at (16.22,0.70) {Al@KH550@DNG 10\%};
\end{tikzpicture}
\end{document}
